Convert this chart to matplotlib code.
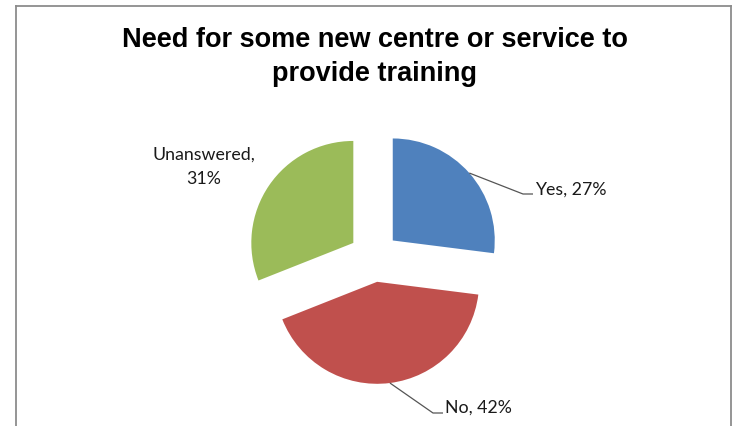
import numpy as np
import matplotlib.pyplot as plt
from matplotlib.lines import Line2D

categories = ["Yes", "No", "Unanswered"]
shares = [27, 42, 31]
colors = ["#4F81BD", "#C0504D", "#9BBB59"]
title_lines = ["Need for some new centre or service to", "provide training"]

W, H = 732, 426
fig = plt.figure(figsize=(W / 100, H / 100), dpi=100)
ax = fig.add_axes([0, 0, 1, 1])

R = 102
wedges, _ = ax.pie(shares, colors=colors, startangle=90, counterclock=False,
                   radius=R, center=(374, H - 257), explode=[25] * len(shares),
                   frame=True, wedgeprops=dict(linewidth=0))
ax.set_xlim(0, W)
ax.set_ylim(0, H)
ax.set_aspect("equal")
ax.axis("off")

label_font = dict(family=["Lato", "DejaVu Sans"], fontsize=12.8, color="#1a1a1a")


def edge_point(w):
    mid = np.deg2rad((w.theta1 + w.theta2) / 2)
    cx, cy = w.center
    return cx + w.r * np.cos(mid), cy + w.r * np.sin(mid)


# leader lines: from the arc midpoint to a short horizontal tick
leaders = {
    "Yes": [(523, H - 194), (533, H - 194)],
    "No": [(433, H - 413), (443, H - 413)],
}
for w, cat, val in zip(wedges, categories, shares):
    if cat in leaders:
        pts = [edge_point(w)] + leaders[cat]
        xs, ys = zip(*pts)
        ax.plot(xs, ys, color="#555555", lw=0.9, solid_capstyle="butt")

ax.text(535, H - 195, f"{categories[0]}, {shares[0]}%", ha="left", va="baseline", **label_font)
ax.text(445, H - 413, f"{categories[1]}, {shares[1]}%", ha="left", va="baseline", **label_font)
ax.text(204, H - 160, f"{categories[2]},", ha="center", va="baseline", **label_font)
ax.text(204, H - 184, f"{shares[2]}%", ha="center", va="baseline", **label_font)

title_font = dict(family=["Liberation Sans", "DejaVu Sans"], fontweight="bold",
                  fontsize=19.5, color="#000000")
fig.text(374.5 / W, 1 - 47 / H, title_lines[0], ha="center", va="baseline", **title_font)
fig.text(374.5 / W, 1 - 81 / H, title_lines[1], ha="center", va="baseline", **title_font)

# chart border
frame_col = "#8c8c8c"
fig.add_artist(Line2D([15.5 / W, 15.5 / W], [0, 1 - 5.5 / H], color=frame_col, lw=1.3,
                      transform=fig.transFigure))
fig.add_artist(Line2D([15.5 / W, 730.8 / W], [1 - 5.5 / H, 1 - 5.5 / H], color=frame_col,
                      lw=1.3, transform=fig.transFigure))
fig.add_artist(Line2D([730.8 / W, 730.8 / W], [0, 1 - 5.5 / H], color=frame_col, lw=1.3,
                      transform=fig.transFigure))

fig.savefig("out.png", dpi=100, facecolor="white")
